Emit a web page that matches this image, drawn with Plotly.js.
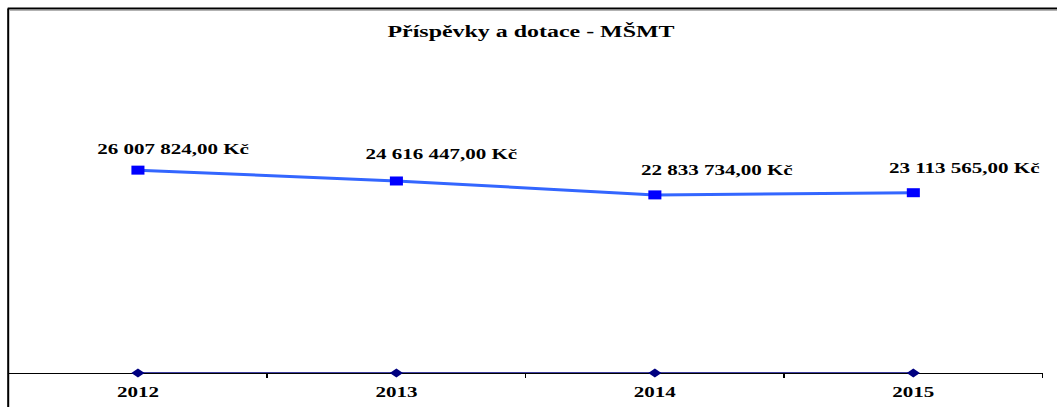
<!DOCTYPE html>
<html>
<head>
<meta charset="utf-8">
<script src="https://cdn.plot.ly/plotly-3.0.1.min.js"></script>
<style>
  html, body { margin: 0; padding: 0; background: #fff; overflow: hidden; }
  #wrap { width: 1057px; height: 407px; overflow: hidden; position: relative; }
  #chart { position: absolute; left: 0; top: 0; transform-origin: 0 0; }
</style>
</head>
<body>
<div id="wrap"><div id="chart"></div></div>
<script>
// ---- data ----
const years = ["2012", "2013", "2014", "2015"];
const contributions = [26007824, 24616447, 22833734, 23113565];
const baseline = [0, 0, 0, 0];
const chartTitle = "Příspěvky a dotace - MŠMT";

// ---- helpers ----
function fmtKc(v) {
  const parts = v.toFixed(2).split(".");
  const intPart = parts[0].replace(/\B(?=(\d{3})+(?!\d))/g, " ");
  return intPart + "," + parts[1] + " Kč";
}

// horizontal stretch of the original picture
const SX = 1.45;
const W = 1057 / SX, H = 407;
const mL = 8 / SX, mR = W - 1042 / SX, mT = 139, mB = 34;
const plotW = W - mL - mR, plotH = H - mT - mB;
const pxX = p => (p / SX - mL) / plotW;      // outer pixel x -> paper x
const pxY = p => (H - mB - p) / plotH;        // pixel y -> paper y

document.getElementById("chart").style.transform = "scaleX(" + SX + ")";

const serif = "Liberation Serif, Times New Roman, serif";

// label offsets (outer px) relative to markers
const labelDX = [35, 45, 62, 51];
const labelDY = [21, 27, 25, 25];

const traces = [
  {
    x: years, y: baseline, type: "scatter", mode: "lines+markers",
    line: { color: "#000080", width: 1.5 },
    marker: { symbol: "diamond", size: 7, color: "#000080" },
    cliponaxis: false, hoverinfo: "skip", showlegend: false
  },
  {
    x: years, y: contributions, type: "scatter", mode: "lines+markers",
    line: { color: "#3366FF", width: 3 },
    marker: { symbol: "square", size: 9, color: "#0000FF" },
    cliponaxis: false, showlegend: false
  }
];

// on a category axis, annotation x is the category index
const annotations = years.map((yr, i) => ({
  x: i, y: contributions[i], xref: "x", yref: "y",
  text: fmtKc(contributions[i]), showarrow: false,
  xanchor: "center", yanchor: "middle",
  xshift: labelDX[i] / SX, yshift: labelDY[i],
  font: { family: serif, size: 14.5, color: "#000", weight: "bold" }
}));

const layout = {
  width: W, height: H,
  margin: { l: mL, r: mR, t: mT, b: mB, pad: 0 },
  paper_bgcolor: "#fff", plot_bgcolor: "#fff",
  showlegend: false,
  title: {
    text: chartTitle, x: 534 / 1057, xanchor: "center",
    y: 1 - 31 / 407, yanchor: "middle", xref: "paper",
    font: { family: serif, size: 16.5, color: "#000", weight: "bold" }
  },
  xaxis: {
    type: "category", range: [-0.5, 3.5],
    showline: true, linecolor: "#000", linewidth: 1,
    ticks: "outside", tickson: "boundaries", ticklen: 4, tickcolor: "#000", tickwidth: 1,
    ticklabelstandoff: 6,
    showgrid: false, zeroline: false, layer: "below traces",
    tickfont: { family: serif, size: 14.5, color: "#000", weight: "bold" },
    fixedrange: true
  },
  yaxis: {
    range: [0, 30000000], visible: false, showgrid: false, zeroline: false, fixedrange: true
  },
  annotations: annotations,
  shapes: [
    { type: "line", xref: "paper", yref: "paper",
      x0: pxX(7.5), x1: pxX(7.5), y0: pxY(8.5), y1: pxY(420),
      line: { color: "#000", width: 1.4 } },
    { type: "line", xref: "paper", yref: "paper",
      x0: pxX(7), x1: pxX(1080), y0: pxY(8.5), y1: pxY(8.5),
      line: { color: "#000", width: 2 } },
    { type: "line", xref: "paper", yref: "paper",
      x0: pxX(9), x1: pxX(1080), y0: pxY(10.3), y1: pxY(10.3),
      line: { color: "#999", width: 1 } }
  ]
};

Plotly.newPlot("chart", traces, layout, { displayModeBar: false, staticPlot: true });
</script>
</body>
</html>
